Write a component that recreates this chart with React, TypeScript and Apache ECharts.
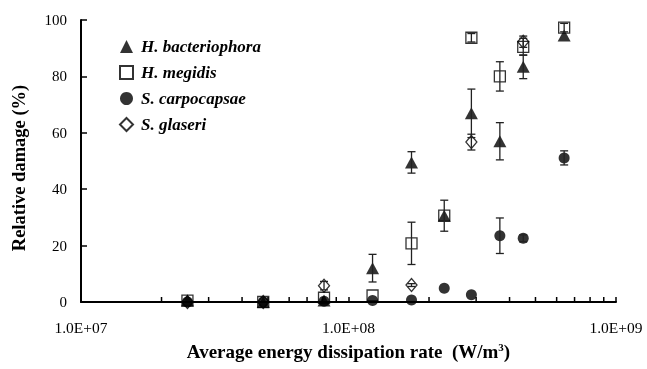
import React, { useEffect, useRef } from "react";
import * as echarts from "echarts";

const xValues = [2.5e7, 4.8e7, 8.1e7, 1.23e8, 1.72e8, 2.28e8, 2.88e8, 3.68e8, 4.5e8, 6.4e8];

const hbName = "H. bacteriophora";
const hbValues = [0.5, 0, 0.5, 12, 49.5, 30.6, 66.9, 57, 83.4, 94.5];
const hbErrors = [0, 0, 0, 4.9, 3.8, 0, 8.6, 6.6, 4.2, 0];

const hmName = "H. megidis";
const hmValues = [0.5, 0, 1.5, 2.3, 20.8, 30.6, 93.7, 80, 90.5, 97.3];
const hmErrors = [0, 0, 0, 0, 7.5, 5.5, 1.5, 5.2, 3, 1.5];

const scName = "S. carpocapsae";
const scValues = [0, 0, 0.3, 0.5, 0.7, 4.9, 2.6, 23.5, 22.6, 51.1];
const scErrors = [0, 0, 0, 0, 0, 0, 0, 6.3, 1.2, 2.5];

const sgName = "S. glaseri";
const sgValues: (number | null)[] = [0, 0, 5.8, null, 6, null, 56.7, null, 92.3, null];
const sgErrors = [0, 0, 1.5, 0, 0.5, 0, 2.8, 0, 2, 0];

const xMinorTicks = [2e7, 3e7, 4e7, 5e7, 6e7, 7e7, 8e7, 9e7, 2e8, 3e8, 4e8, 5e8, 6e8, 7e8, 8e8, 9e8];
const xTickLabels: Record<string, string> = { "10000000": "1.0E+07", "100000000": "1.0E+08", "1000000000": "1.0E+09" };

const FONT = "Liberation Serif";

function pts(vals: (number | null)[]) {
  const out: number[][] = [];
  vals.forEach((v, i) => {
    if (v !== null) out.push([xValues[i], v]);
  });
  return out;
}
function errPts(vals: (number | null)[], errs: number[]) {
  const out: number[][] = [];
  vals.forEach((v, i) => {
    if (v !== null && errs[i] > 0) out.push([xValues[i], v, errs[i]]);
  });
  return out;
}

function errorSeries(data: number[][]) {
  return {
    type: "custom",
    z: 5,
    data,
    renderItem: (params: any, api: any) => {
      const x = api.value(0);
      const y = api.value(1);
      const e = api.value(2);
      const top = api.coord([x, y + e]);
      const bot = api.coord([x, Math.max(0, y - e)]);
      const c = 4;
      const style = { stroke: "#222", lineWidth: 1.3 };
      return {
        type: "group",
        children: [
          { type: "line", shape: { x1: top[0], y1: top[1], x2: bot[0], y2: bot[1] }, style },
          { type: "line", shape: { x1: top[0] - c, y1: top[1], x2: top[0] + c, y2: top[1] }, style },
          { type: "line", shape: { x1: bot[0] - c, y1: bot[1], x2: bot[0] + c, y2: bot[1] }, style },
        ],
      };
    },
  };
}

export default function App() {
  const ref = useRef<HTMLDivElement>(null);
  useEffect(() => {
    if (!ref.current) return;
    const chart = echarts.init(ref.current, null, { renderer: "svg" });
    const option: any = {
      animation: false,
      grid: { left: 81, right: 31, top: 20, bottom: 67, containLabel: false, outerBoundsMode: "none" },
      legend: {
        orient: "vertical",
        left: 114,
        top: 33,
        itemWidth: 13,
        itemHeight: 13,
        itemGap: 9,
        data: [hbName, hmName, scName, sgName],
        textStyle: { fontFamily: FONT, fontSize: 17, fontWeight: "bold", fontStyle: "italic", color: "#000", padding: [0, 0, 0, 3] },
      },
      xAxis: {
        type: "log",
        logBase: 10,
        min: 1e7,
        max: 1e9,
        name: "Average energy dissipation rate  (W/m{sup|3})",
        nameLocation: "middle",
        nameGap: 39,
        nameTextStyle: {
          fontFamily: FONT,
          fontSize: 19,
          fontWeight: "bold",
          color: "#000",
          rich: { sup: { fontFamily: FONT, fontSize: 11, fontWeight: "bold", verticalAlign: "top", padding: [0, 0, 9, 0], color: "#000" } },
        },
        axisLine: { lineStyle: { color: "#000", width: 2 } },
        axisTick: { show: true, inside: true, length: 5, lineStyle: { color: "#000", width: 1.5 } },
        splitLine: { show: false },
        axisLabel: {
          fontFamily: FONT,
          fontSize: 15.5,
          color: "#000",
          margin: 17,
          formatter: (v: number) => xTickLabels[String(Math.round(v))] ?? "",
        },
      },
      yAxis: {
        type: "value",
        min: 0,
        max: 100,
        interval: 20,
        name: "Relative damage (%)",
        nameLocation: "middle",
        nameGap: 53,
        nameRotate: 90,
        nameTextStyle: { fontFamily: FONT, fontSize: 18.5, fontWeight: "bold", color: "#000", padding: [0, 0, 0, -14] },
        axisLine: { show: true, lineStyle: { color: "#000", width: 2 } },
        axisTick: { show: true, inside: true, length: 6, lineStyle: { color: "#000", width: 1.5 } },
        splitLine: { show: false },
        axisLabel: { fontFamily: FONT, fontSize: 15, color: "#000", margin: 14 },
      },
      series: [
        {
          type: "custom",
          z: 6,
          data: xMinorTicks.map((v) => [v, 0]),
          renderItem: (params: any, api: any) => {
            const p = api.coord([api.value(0), 0]);
            return {
              type: "line",
              shape: { x1: p[0], y1: p[1], x2: p[0], y2: p[1] - 5 },
              style: { stroke: "#000", lineWidth: 1.5 },
            };
          },
        },
        {
          name: hmName,
          type: "scatter",
          symbol: "rect",
          symbolSize: 11,
          z: 3,
          itemStyle: { color: "rgba(255,255,255,0)", borderColor: "#000", borderWidth: 1.3 },
          data: pts(hmValues),
        },
        {
          name: sgName,
          type: "scatter",
          symbol: "diamond",
          symbolSize: [11, 13],
          z: 3,
          itemStyle: { color: "rgba(255,255,255,0)", borderColor: "#000", borderWidth: 1.3 },
          data: pts(sgValues),
        },
        {
          name: hbName,
          type: "scatter",
          symbol: "triangle",
          symbolSize: [13, 12],
          z: 4,
          itemStyle: { color: "#000" },
          data: pts(hbValues),
        },
        {
          name: scName,
          type: "scatter",
          symbol: "circle",
          symbolSize: 11,
          z: 4,
          itemStyle: { color: "#000" },
          data: pts(scValues),
        },
        errorSeries(errPts(hbValues, hbErrors)),
        errorSeries(errPts(hmValues, hmErrors)),
        errorSeries(errPts(scValues, scErrors)),
        errorSeries(errPts(sgValues, sgErrors)),
      ],
    };
    chart.setOption(option);
    return () => chart.dispose();
  }, []);
  return <div ref={ref} style={{ position: "fixed", left: 0, top: 0, width: 647, height: 369 }} />;
}
